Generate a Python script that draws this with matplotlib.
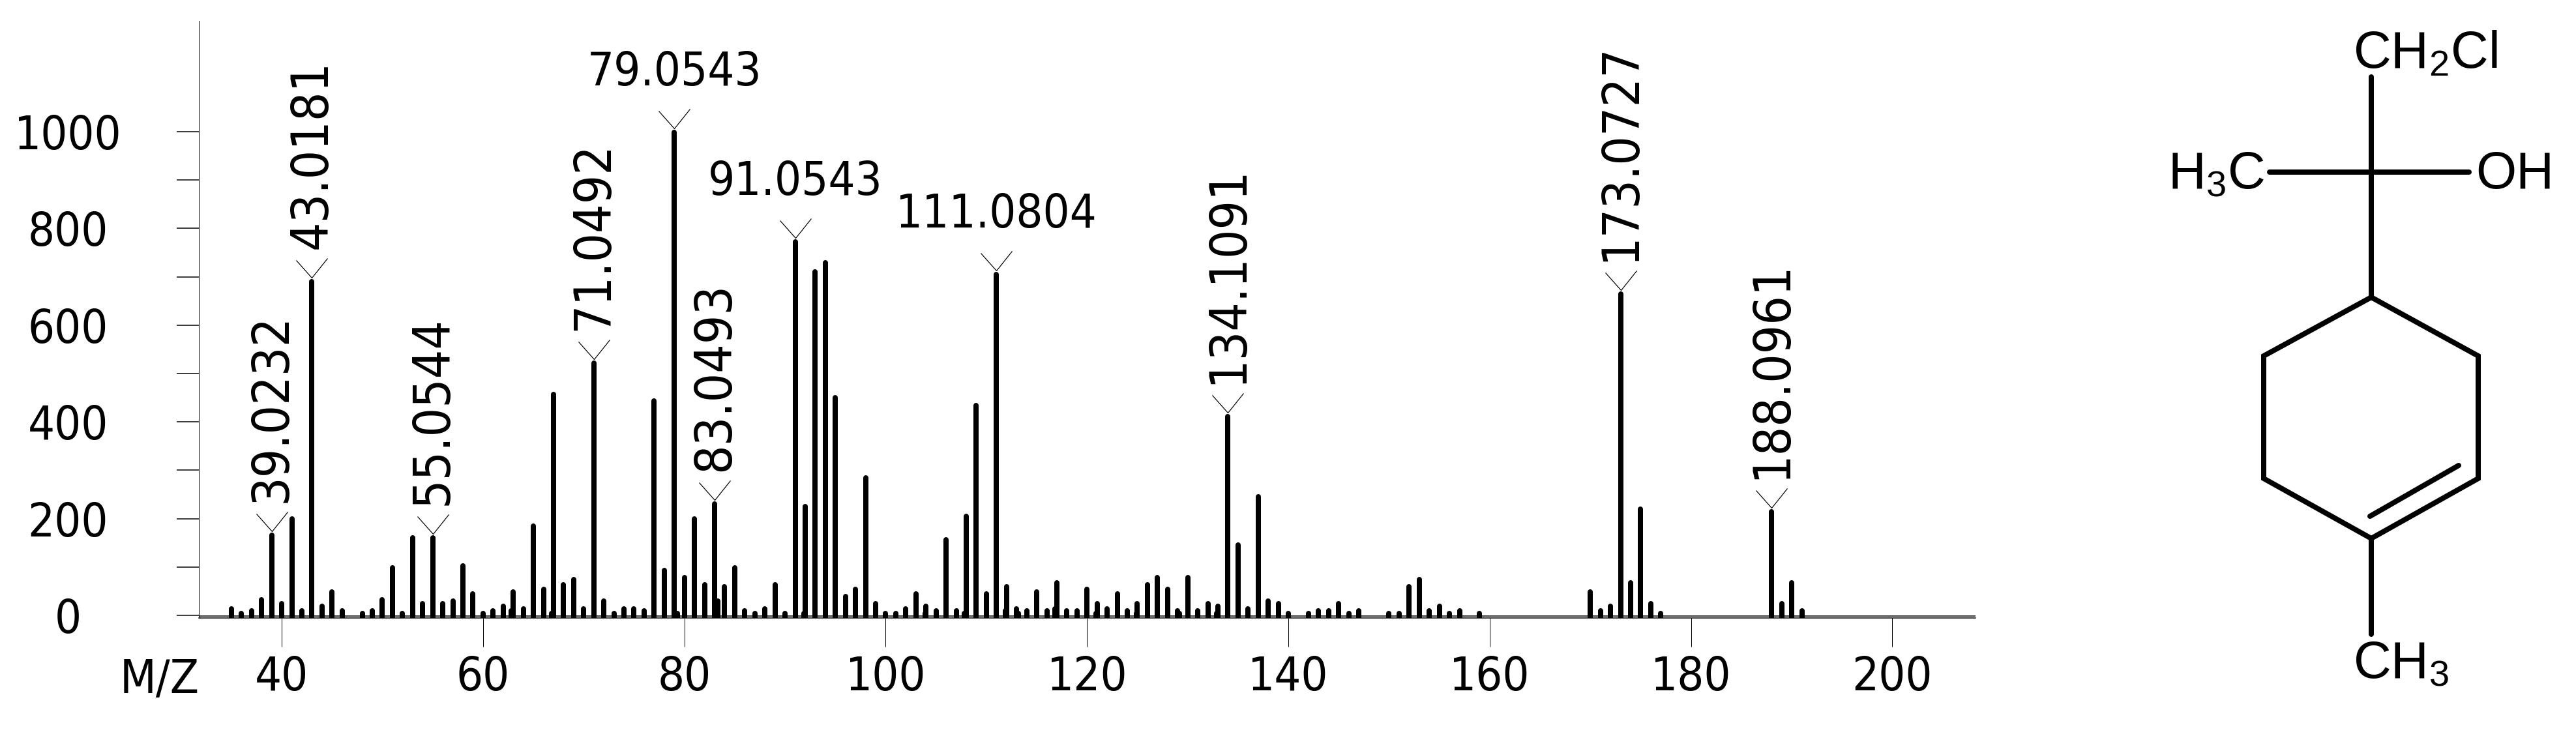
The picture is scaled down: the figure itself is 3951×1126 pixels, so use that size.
import matplotlib
matplotlib.use('Agg')
import matplotlib.pyplot as plt
from matplotlib.path import Path

W, H = 3951, 1126
DPI = 100
PX = 72 / DPI  # one pixel in points

# Peak positions and intensities
mz = [35, 36, 37, 38, 39, 40, 41, 42, 43, 44, 45, 46, 48, 49, 50, 51, 52, 53, 54, 55,
      56, 57, 58, 59, 60, 61, 62, 62.8, 63, 64, 65, 66, 66.8, 67, 68, 69, 70, 71, 72, 73,
      74, 75, 76, 77, 78, 79, 79.3, 80, 81, 82, 83, 83.3, 84, 85, 86, 87, 88, 89, 90, 91,
      91.9, 92, 93, 94, 95, 96, 97, 98, 99, 100, 101, 102, 103, 103.9, 104, 105, 106, 107,
      107.8, 108, 109, 110, 111, 111.9, 112, 113, 113.2, 114, 115, 116, 116.8, 117, 118, 119, 120, 120.9,
      121, 122, 123, 124, 124.9, 125, 126, 127, 128, 129, 129.2, 130, 131, 132, 132.9, 133,
      134, 135, 136, 137, 138, 139, 140, 142, 143, 144, 145, 146, 147, 150, 151, 152,
      153, 154, 155, 156, 157, 159, 170, 171, 172, 173, 174, 175, 176, 177, 188, 189,
      190, 191]
intensity = [18, 8, 13, 37, 170, 28, 204, 13, 694, 23, 53, 13, 8, 13, 37, 102, 8, 165, 28, 165,
             28, 34, 106, 48, 8, 13, 23, 13, 53, 18, 189, 58, 8, 461, 68, 78, 18, 526, 34, 8,
             18, 18, 13, 448, 97, 1003, 8, 82, 204, 68, 234, 34, 63, 102, 13, 8, 18, 67, 8, 776,
             8, 229, 714, 733, 454, 43, 58, 288, 28, 8, 8, 18, 48, 8, 23, 13, 160, 13,
             8, 209, 438, 48, 709, 13, 63, 18, 8, 13, 53, 13, 18, 72, 13, 13, 58, 8,
             28, 18, 48, 13, 8, 28, 67, 82, 58, 13, 8, 82, 13, 28, 8, 23,
             415, 150, 18, 249, 34, 28, 8, 8, 13, 13, 28, 8, 13, 8, 8, 63,
             78, 13, 23, 8, 13, 8, 53, 13, 23, 668, 72, 224, 28, 8, 218, 28,
             72, 13]

# Labelled peaks
upright_labels = {39: '39.0232', 43: '43.0181', 55: '55.0544', 71: '71.0492',
                  83: '83.0493', 134: '134.1091', 173: '173.0727', 188: '188.0961'}
flat_labels = {79: '79.0543', 91: '91.0543', 111: '111.0804'}

x_ticks = [40, 60, 80, 100, 120, 140, 160, 180, 200]
y_ticks = [0, 200, 400, 600, 800, 1000]
y_minor = [100, 300, 500, 700, 900]

plt.rcParams['font.family'] = ['DejaVu Sans']
plt.rcParams['font.stretch'] = 'condensed'
plt.rcParams['mathtext.default'] = 'regular'

fig = plt.figure(figsize=(W / DPI, H / DPI), dpi=DPI)

# Spectrum axes, placed by pixel box
left, right, top, bottom = 305, 3030, 32, 948
ax = fig.add_axes([left / W, 1 - bottom / H, (right - left) / W, (bottom - top) / H])
ax.set_xlim(31.77, 208.26)
ax.set_ylim(-5.4, 1229)
for side in ['top', 'right']:
    ax.spines[side].set_visible(False)
ax.spines['left'].set_linewidth(1 * PX)
ax.spines['bottom'].set_linewidth(1.5 * PX)
ax.axhline(-1, color='black', lw=1.5 * PX)

# Round caps add a little height, so take that off the line end
tops = [v - 4 for v in intensity]
ax.vlines(mz, -6, tops, color='black', lw=8 * PX, capstyle='round')

ax.set_xticks(x_ticks)
ax.set_yticks(y_ticks)
ax.set_yticks(y_minor, minor=True)
ax.tick_params(axis='x', length=44 * PX, width=1 * PX, pad=13 * PX, labelsize=72 * PX)
ax.tick_params(axis='y', which='both', length=34 * PX, width=1.5 * PX)
ax.tick_params(axis='y', which='major', pad=167 * PX, labelsize=72 * PX)
for lab in ax.get_yticklabels():
    lab.set_ha('center')

peak_height = dict(zip(mz, intensity))
# Open chevron pointing at the peak top
chevron = Path([(-24, 27), (0, 0), (24, 30)], [Path.MOVETO, Path.LINETO, Path.LINETO])


def mark_peak(m, text, rotation, gap, size):
    v = peak_height[m]
    ax.plot([m], [v + 4], marker=chevron, ms=60 * PX, mew=1.2 * PX, mfc='none', mec='black',
            clip_on=False, ls='none', zorder=3)
    ax.annotate(text, xy=(m, v), xytext=(0, gap), textcoords='offset pixels', rotation=rotation,
                ha='center', va='bottom', fontsize=size * PX)


for m, text in upright_labels.items():
    mark_peak(m, text, 90, 47, 78)
for m, text in flat_labels.items():
    mark_peak(m, text, 0, 54, 72)

# Overlay in pixel coordinates for the axis caption and the structure drawing
over = fig.add_axes([0, 0, 1, 1])
over.set_xlim(0, W)
over.set_ylim(H, 0)
over.axis('off')
over.patch.set_alpha(0)

over.text(306, 1063, 'M/Z', ha='right', va='baseline', fontsize=72 * PX)

bond = dict(color='black', lw=8 * PX, solid_capstyle='round', solid_joinstyle='miter')
over.plot([3637, 3637], [118, 456], **bond)
over.plot([3481, 3787], [264, 264], **bond)
over.plot([3637, 3801, 3801, 3637, 3472, 3472, 3637], [456, 546, 734, 826, 734, 546, 456], **bond)
over.plot([3635, 3771], [792, 714], **bond)
over.plot([3637, 3637], [826, 973], **bond)

chem = dict(family=['Liberation Sans', 'DejaVu Sans'], stretch='normal', fontsize=80 * PX, va='baseline', ha='left')
over.text(3609, 104, 'CH$_2$Cl', **chem)
over.text(3325, 289, 'H$_3$C', **chem)
over.text(3797, 289, 'OH', **chem)
over.text(3609, 1040, 'CH$_3$', **chem)

fig.savefig('out.png', dpi=DPI)
